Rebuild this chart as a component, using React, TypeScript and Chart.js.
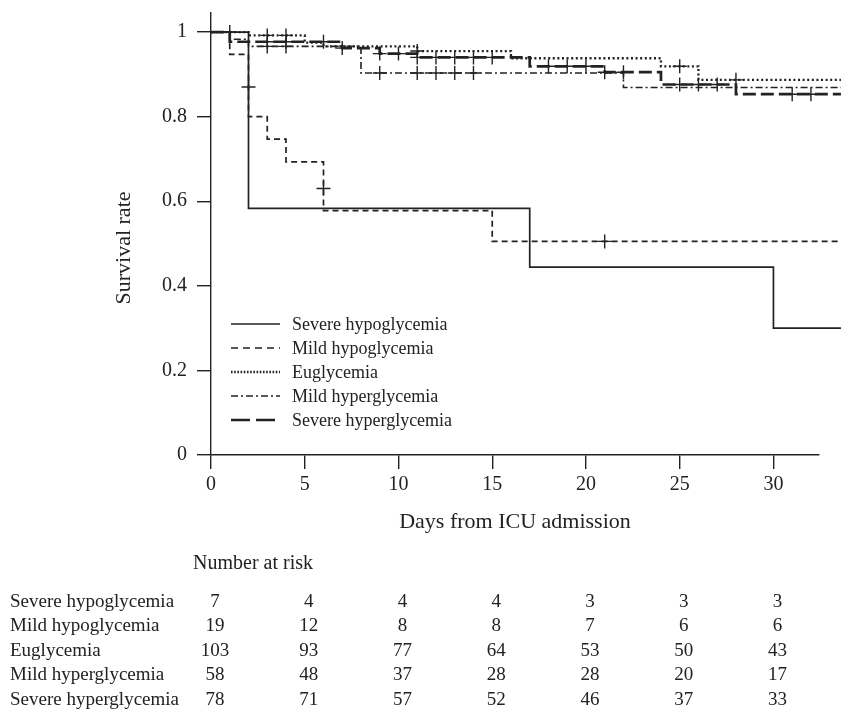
import React, { useEffect, useRef } from "react";
import { Chart, registerables } from "chart.js";

Chart.register(...registerables);

// ---------- data ----------
const seriesNames = [
  "Severe hypoglycemia",
  "Mild hypoglycemia",
  "Euglycemia",
  "Mild hyperglycemia",
  "Severe hyperglycemia",
];

// Kaplan–Meier step curves: day of each step and survival from that day on
const sevHypoDays = [0, 2, 17, 30, 33.6];
const sevHypoSurv = [1, 0.583, 0.444, 0.3, 0.3];
const sevHypoCensorDays: number[] = [];
const sevHypoCensorSurv: number[] = [];

const mildHypoDays = [0, 1, 2, 3, 4, 6, 15, 33.6];
const mildHypoSurv = [1, 0.947, 0.8, 0.747, 0.693, 0.578, 0.505, 0.505];
const mildHypoCensorDays = [2, 6, 21];
const mildHypoCensorSurv = [0.87, 0.63, 0.505];

const euglyDays = [0, 2, 5, 6, 11, 16, 24, 26, 33.6];
const euglySurv = [1, 0.992, 0.975, 0.966, 0.955, 0.938, 0.919, 0.887, 0.887];
const euglyCensorDays = [3, 4, 11, 25, 28];
const euglyCensorSurv = [0.992, 0.992, 0.955, 0.919, 0.887];

const mildHyperDays = [0, 1, 2, 8, 22, 33.6];
const mildHyperSurv = [1, 0.983, 0.966, 0.903, 0.869, 0.869];
const mildHyperCensorDays = [1, 3, 4, 9, 11, 12, 13, 14];
const mildHyperCensorSurv = [1, 0.966, 0.966, 0.903, 0.903, 0.903, 0.903, 0.903];

const sevHyperDays = [0, 1, 7, 9, 11, 17, 21, 24, 28, 33.6];
const sevHyperSurv = [1, 0.977, 0.962, 0.949, 0.94, 0.919, 0.905, 0.876, 0.853, 0.853];
const sevHyperCensorDays = [3, 4, 6, 7, 9, 10, 11, 12, 13, 14, 15, 18, 19, 20, 21, 22, 25, 26, 27, 31, 32, 33];
const sevHyperCensorSurv = [
  0.977, 0.977, 0.977, 0.962, 0.949, 0.949, 0.94, 0.94, 0.94, 0.94, 0.94,
  0.919, 0.919, 0.919, 0.905, 0.905, 0.876, 0.876, 0.876, 0.853, 0.853, 0.853,
];

// number at risk table
const riskDays = [0, 5, 10, 15, 20, 25, 30];
const sevHypoRisk = [7, 4, 4, 4, 3, 3, 3];
const mildHypoRisk = [19, 12, 8, 8, 7, 6, 6];
const euglyRisk = [103, 93, 77, 64, 53, 50, 43];
const mildHyperRisk = [58, 48, 37, 28, 28, 20, 17];
const sevHyperRisk = [78, 71, 57, 52, 46, 37, 33];

// axes
const xTickValues = [0, 5, 10, 15, 20, 25, 30];
const yTickValues = [0, 0.2, 0.4, 0.6, 0.8, 1];
const yTickLabels = ["0", "0.2", "0.4", "0.6", "0.8", "1"];
const xTitle = "Days from ICU admission";
const yTitle = "Survival rate";
const tableTitle = "Number at risk";

// ---------- styling ----------
const INK = "#222";
const FONT = "'Liberation Serif', 'Times New Roman', serif";

const curveDays = [sevHypoDays, mildHypoDays, euglyDays, mildHyperDays, sevHyperDays];
const curveSurv = [sevHypoSurv, mildHypoSurv, euglySurv, mildHyperSurv, sevHyperSurv];
const censorDays = [sevHypoCensorDays, mildHypoCensorDays, euglyCensorDays, mildHyperCensorDays, sevHyperCensorDays];
const censorSurv = [sevHypoCensorSurv, mildHypoCensorSurv, euglyCensorSurv, mildHyperCensorSurv, sevHyperCensorSurv];
const riskRows = [sevHypoRisk, mildHypoRisk, euglyRisk, mildHyperRisk, sevHyperRisk];

const lineStyles = [
  { width: 1.7, dash: [] as number[], legendDash: [] as number[] },
  { width: 1.7, dash: [6, 4], legendDash: [7, 5] },
  { width: 2.3, dash: [2, 2.6], legendDash: [1.6, 1.6] },
  { width: 1.6, dash: [7, 3, 2, 3], legendDash: [7, 3, 2, 3] },
  { width: 2.7, dash: [13, 5], legendDash: [19, 6] },
];

const W = 842;
const H = 711;

const annotations = {
  id: "annotations",
  afterDraw(chart: any) {
    const ctx = chart.ctx as CanvasRenderingContext2D;
    const xs = chart.scales.x;
    ctx.save();
    ctx.fillStyle = INK;
    ctx.strokeStyle = INK;

    // axis titles
    ctx.font = `22px ${FONT}`;
    ctx.textAlign = "center";
    ctx.textBaseline = "middle";
    ctx.save();
    ctx.translate(124, 248);
    ctx.rotate(-Math.PI / 2);
    ctx.fillText(yTitle, 0, 0);
    ctx.restore();
    ctx.fillText(xTitle, (xs.left + xs.right) / 2, 522);

    // legend
    ctx.font = `18px ${FONT}`;
    ctx.textAlign = "left";
    seriesNames.forEach((name, i) => {
      const y = 324 + i * 24;
      const st = lineStyles[i];
      ctx.save();
      ctx.lineWidth = st.width;
      ctx.setLineDash(st.legendDash);
      ctx.beginPath();
      ctx.moveTo(231, y);
      ctx.lineTo(280, y);
      ctx.stroke();
      ctx.restore();
      ctx.fillText(name, 292, y + 1);
    });

    // number at risk table
    ctx.font = `20px ${FONT}`;
    ctx.textAlign = "left";
    ctx.fillText(tableTitle, 193, 564);
    ctx.font = `19px ${FONT}`;
    seriesNames.forEach((name, i) => {
      const y = 602 + i * 24.5;
      ctx.textAlign = "left";
      ctx.fillText(name, 10, y);
      ctx.textAlign = "center";
      riskRows[i].forEach((n, j) => {
        ctx.fillText(String(n), xs.getPixelForValue(riskDays[j]) + 4, y);
      });
    });
    ctx.restore();
  },
};

export default function App() {
  const ref = useRef<HTMLCanvasElement | null>(null);

  useEffect(() => {
    if (!ref.current) return;
    const datasets: any[] = [];
    seriesNames.forEach((name, i) => {
      const st = lineStyles[i];
      datasets.push({
        label: name,
        data: curveDays[i].map((d, k) => ({ x: d, y: curveSurv[i][k] })),
        stepped: "before",
        borderColor: INK,
        borderWidth: st.width,
        borderDash: st.dash,
        pointRadius: 0,
        fill: false,
        clip: false,
        tension: 0,
      });
    });
    seriesNames.forEach((name, i) => {
      datasets.push({
        label: name + " censored",
        data: censorDays[i].map((d, k) => ({ x: d, y: censorSurv[i][k] })),
        showLine: false,
        pointStyle: "cross",
        pointRadius: 7,
        pointBorderWidth: 1.4,
        pointBorderColor: INK,
        borderColor: INK,
        clip: false,
      });
    });

    const chart = new Chart(ref.current, {
      type: "line",
      data: { datasets },
      plugins: [annotations],
      options: {
        responsive: false,
        animation: false,
        devicePixelRatio: 1,
        layout: { padding: { left: 0, top: 13, right: 23, bottom: 0 } },
        plugins: { legend: { display: false }, tooltip: { enabled: false } },
        scales: {
          x: {
            type: "linear",
            min: 0,
            max: 32.43,
            afterBuildTicks: (scale: any) => {
              scale.ticks = xTickValues.map((v) => ({ value: v }));
            },
            afterFit: (scale: any) => {
              scale.height = 256;
              scale.paddingLeft = 0;
              scale.paddingRight = 0;
            },
            ticks: {
              color: INK,
              font: { family: FONT, size: 20 },
              padding: 4,
              maxRotation: 0,
              callback: (v: any) => String(v),
            },
            grid: { drawOnChartArea: false, drawTicks: true, tickLength: 14, color: INK, lineWidth: 1.4 },
            border: { color: INK, width: 1.4 },
          },
          y: {
            type: "linear",
            min: 0,
            max: 1.045,
            afterBuildTicks: (scale: any) => {
              scale.ticks = yTickValues.map((v) => ({ value: v }));
            },
            afterFit: (scale: any) => {
              scale.width = 211;
              scale.paddingTop = 0;
              scale.paddingBottom = 0;
            },
            ticks: {
              color: INK,
              font: { family: FONT, size: 20 },
              padding: 10,
              callback: (v: any) => {
                const idx = yTickValues.indexOf(v);
                return idx >= 0 ? yTickLabels[idx] : "";
              },
            },
            grid: { drawOnChartArea: false, drawTicks: true, tickLength: 14, color: INK, lineWidth: 1.4 },
            border: { color: INK, width: 1.4 },
          },
        },
      },
    } as any);
    return () => chart.destroy();
  }, []);

  return (
    <div style={{ position: "fixed", left: 0, top: 0, width: W, height: H, background: "#fff" }}>
      <canvas ref={ref} width={W} height={H} style={{ display: "block", width: W, height: H }} />
    </div>
  );
}
